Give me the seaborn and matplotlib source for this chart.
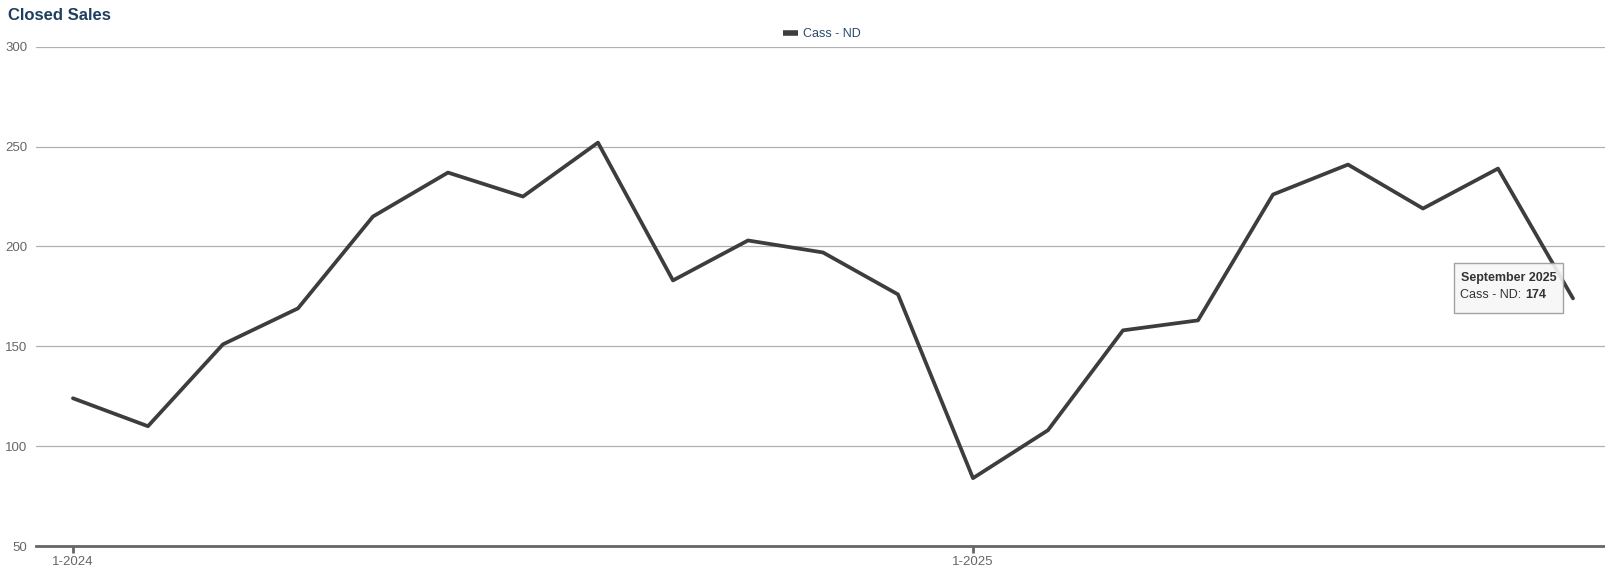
import matplotlib
matplotlib.use("Agg")
import matplotlib.pyplot as plt
import seaborn as sns
import pandas as pd
import numpy as np
from matplotlib.patches import FancyBboxPatch

months = ["1-2024", "2-2024", "3-2024", "4-2024", "5-2024", "6-2024", "7-2024",
          "8-2024", "9-2024", "10-2024", "11-2024", "12-2024", "1-2025", "2-2025",
          "3-2025", "4-2025", "5-2025", "6-2025", "7-2025", "8-2025", "9-2025"]
closed_sales = [124, 110, 151, 169, 215, 237, 225, 252, 183, 203, 197, 176,
                84, 108, 158, 163, 226, 241, 219, 239, 174]
series_name = "Cass - ND"
shown_ticks = ["1-2024", "1-2025"]
y_ticks = [50, 100, 150, 200, 250, 300]

sns.set_theme(style="white")
plt.rcParams['font.family'] = ['Liberation Sans', 'DejaVu Sans']

df = pd.DataFrame({"idx": np.arange(len(months)), "month": months, "value": closed_sales})

fig = plt.figure(figsize=(16.06, 5.70), dpi=100)
ax = fig.add_axes([0.0224, 0.042, 0.9776, 0.876])

sns.lineplot(data=df, x="idx", y="value", ax=ax, color="#3d3d3d", linewidth=2.7,
             label=series_name, legend=False)

ax.set_ylim(50, 300)
ax.set_xlim(-0.493, 20.44)
ax.set_yticks(y_ticks)
ax.set_yticklabels([str(v) for v in y_ticks], color="#666666", fontsize=9.5)
tick_pos = [months.index(t) for t in shown_ticks]
ax.set_xticks(tick_pos)
ax.set_xticklabels(shown_ticks, color="#666666", fontsize=9.5)
ax.tick_params(axis="x", length=5, width=2, color="#666666", pad=2, direction="out", bottom=True)
ax.tick_params(axis="y", length=0, pad=6)
ax.grid(axis="y", color="#b0b0b0", linewidth=0.9)
ax.set_axisbelow(True)
for s in ["top", "right", "left"]:
    ax.spines[s].set_visible(False)
ax.spines["bottom"].set_color("#666666")
ax.spines["bottom"].set_linewidth(2)
ax.set_xlabel("")
ax.set_ylabel("")

fig.text(8/1606, 1 - 16/570, "Closed Sales", fontsize=12, fontweight="bold",
         color="#1f3f60", ha="left", va="center")

# legend
leg = ax.legend(loc="center", bbox_to_anchor=(822/1606, 1 - 34/570), bbox_transform=fig.transFigure,
                frameon=False, fontsize=9, handlelength=1.2, handletextpad=0.4)
for t in leg.get_texts():
    t.set_color("#2b4a6b")
for l in leg.get_lines():
    l.set_linewidth(4)
    l.set_solid_capstyle("butt")

# tooltip
bx0, by0, bx1, by1 = 1454/1606, 1 - 313/570, 1563/1606, 1 - 263/570
box = FancyBboxPatch((bx0, by0), bx1 - bx0, by1 - by0, boxstyle="square,pad=0",
                     transform=fig.transFigure, facecolor="#f7f7f7", edgecolor="#999999",
                     linewidth=1, alpha=0.9, zorder=5)
fig.patches.append(box)
cx = (bx0 + bx1) / 2
fig.text(cx, 1 - 278/570, "September 2025", fontsize=9, fontweight="bold",
         color="#333333", ha="center", va="center", zorder=6)
fig.text(1525/1606, 1 - 295/570, "Cass - ND: ", fontsize=9, color="#333333",
         ha="right", va="center", zorder=6)
fig.text(1525/1606, 1 - 295/570, "174", fontsize=9, fontweight="bold", color="#333333",
         ha="left", va="center", zorder=6)

fig.savefig("out.png", dpi=100)
